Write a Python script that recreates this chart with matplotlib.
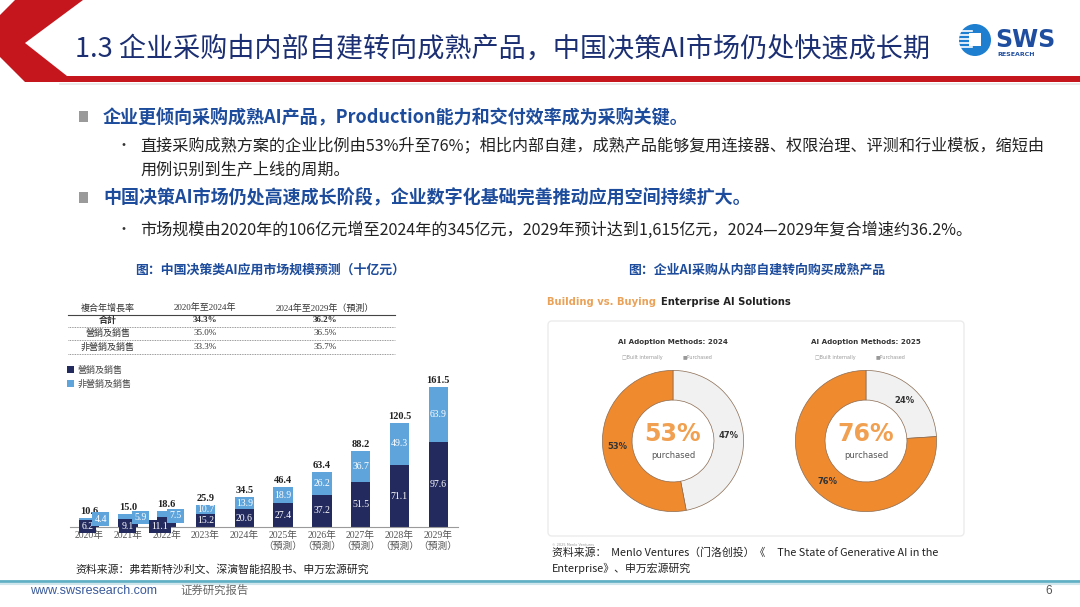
#!/usr/bin/env python
import numpy as np
import matplotlib
matplotlib.use("Agg")
import matplotlib.pyplot as plt
from matplotlib.patches import Polygon, Rectangle, FancyBboxPatch, Circle

plt.rcParams["font.family"] = ["Noto Sans CJK SC", "DejaVu Sans"]

# ---- data ----
years = ["2020年", "2021年", "2022年", "2023年", "2024年",
         "2025年", "2026年", "2027年", "2028年", "2029年"]
forecast = [False] * 5 + [True] * 5
sales = [6.2, 9.1, 11.1, 15.2, 20.6, 27.4, 37.2, 51.5, 71.1, 97.6]
non_sales = [4.4, 5.9, 7.5, 10.7, 13.9, 18.9, 26.2, 36.7, 49.3, 63.9]
totals = [10.6, 15.0, 18.6, 25.9, 34.5, 46.4, 63.4, 88.2, 120.5, 161.5]

cagr_header = ["複合年增長率", "2020年至2024年", "2024年至2029年（預測）"]
cagr_rows = ["合計", "營銷及銷售", "非營銷及銷售"]
cagr_2020_2024 = ["34.3%", "35.0%", "33.3%"]
cagr_2024_2029 = ["36.2%", "36.5%", "35.7%"]

adoption_years = ["2024", "2025"]
built_internally = [47, 24]
purchased = [53, 76]

# ---- colours ----
navy = "#232a5e"
light_blue = "#5fa5dc"
orange = "#ef8a2f"
pale = "#f1f1f1"
title_blue = "#1b2f72"
head_blue = "#1d4c9c"
serif_cjk = ["Liberation Serif", "Noto Sans CJK TC"]

W, H = 1080, 607
fig = plt.figure(figsize=(W / 100, H / 100), dpi=100)
bg = fig.add_axes([0, 0, 1, 1])
bg.set_xlim(0, W)
bg.set_ylim(H, 0)
bg.axis("off")

# header chevron + red band
red = "#c4161c"
bg.add_patch(Polygon([(0, 15), (15, 0), (83, 0), (25, 43), (67, 76), (1080, 76),
                      (1080, 82), (25, 82), (0, 57)], closed=True,
                     facecolor=red, edgecolor="none"))
bg.plot([60, 1080], [84, 84], color="#e6e6e6", lw=1.2)
bg.text(75, 49, "1.3 企业采购由内部自建转向成熟产品，中国决策AI市场仍处快速成长期",
        fontsize=19.5, color=title_blue, va="center", ha="left")

# logo
bg.add_patch(Circle((975, 40), 16, facecolor="#1e7fd0", edgecolor="none"))
for yy in (31, 35, 39, 43, 47):
    bg.plot([960, 972], [yy, yy], color="white", lw=1.2)
bg.add_patch(Rectangle((969, 33), 12, 13, facecolor="white", edgecolor="none"))
bg.text(995, 40, "SWS", fontsize=17, fontweight="bold", color="#1f4ea0",
        va="center", ha="left", family="DejaVu Sans")
bg.text(997, 54, "RESEARCH", fontsize=4.5, fontweight="bold", color="#1f4ea0",
        va="center", ha="left", family="DejaVu Sans")

# bullets
bg.add_patch(Rectangle((79, 111), 9, 11, facecolor="#9a9a9a", edgecolor="none"))
bg.text(103, 117, "企业更倾向采购成熟AI产品，Production能力和交付效率成为采购关键。",
        fontsize=13, fontweight="bold", color=head_blue, va="center")
bg.text(116, 146, "•", fontsize=10, color="#333333", va="center")
bg.text(140, 146, "直接采购成熟方案的企业比例由53%升至76%；相比内部自建，成熟产品能够复用连接器、权限治理、评测和行业模板，缩短由",
        fontsize=11.6, color="#222222", va="center")
bg.text(140, 170, "用例识别到生产上线的周期。", fontsize=11.6, color="#222222", va="center")
bg.add_patch(Rectangle((79, 192), 9, 11, facecolor="#9a9a9a", edgecolor="none"))
bg.text(103, 198, "中国决策AI市场仍处高速成长阶段，企业数字化基础完善推动应用空间持续扩大。",
        fontsize=13, fontweight="bold", color=head_blue, va="center")
bg.text(116, 230, "•", fontsize=10, color="#333333", va="center")
bg.text(140, 230, "市场规模由2020年的106亿元增至2024年的345亿元，2029年预计达到1,615亿元，2024—2029年复合增速约36.2%。",
        fontsize=11.6, color="#222222", va="center")

# captions
bg.text(270, 270, "图：中国决策类AI应用市场规模预测（十亿元）", fontsize=9.3,
        fontweight="bold", color=head_blue, ha="center", va="center")
bg.text(757, 270, "图：企业AI采购从内部自建转向购买成熟产品", fontsize=9.3,
        fontweight="bold", color=head_blue, ha="center", va="center")

# CAGR table
col_x = [108, 205, 325]
for j in range(3):
    bg.text(col_x[j], 308, cagr_header[j], fontsize=6.5, color="#333333",
            ha="center", va="center", family=serif_cjk)
bg.plot([68, 395], [315, 315], color="#444444", lw=0.8)
row_y = [320, 333, 347]
for k, name in enumerate(cagr_rows):
    wt = "bold" if k == 0 else "normal"
    bg.text(col_x[0], row_y[k], name, fontsize=6.5, color="#333333",
            ha="center", va="center", family=serif_cjk, fontweight=wt)
    bg.text(col_x[1], row_y[k], cagr_2020_2024[k], fontsize=6.5, color="#333333",
            ha="center", va="center", family=serif_cjk, fontweight=wt)
    bg.text(col_x[2], row_y[k], cagr_2024_2029[k], fontsize=6.5, color="#333333",
            ha="center", va="center", family=serif_cjk, fontweight=wt)
    bg.plot([68, 395], [row_y[k] + 6.5] * 2, color="#777777", lw=0.6, ls=(0, (1, 1)))

# bar legend
bg.add_patch(Rectangle((67, 366), 7, 7, facecolor=navy, edgecolor="none"))
bg.text(78, 370, "營銷及銷售", fontsize=6.5, color="#444444", va="center", family=serif_cjk)
bg.add_patch(Rectangle((67, 380), 7, 7, facecolor=light_blue, edgecolor="none"))
bg.text(78, 384, "非營銷及銷售", fontsize=6.5, color="#444444", va="center", family=serif_cjk)

# ---- stacked bar chart ----
step = 38.8
x0 = 89 - 0.5 * step
base_px, px_per_unit = 527, 0.867
ymax = 175
ax = fig.add_axes([x0 / W, (H - base_px) / H, 10 * step / W, ymax * px_per_unit / H])
ax.patch.set_visible(False)
idx = np.arange(len(years))
ax.bar(idx, sales, width=0.5, color=navy)
ax.bar(idx, non_sales, width=0.5, bottom=sales, color=light_blue)
ax.set_xlim(-0.5, 9.5)
ax.set_ylim(0, ymax)
for s in ("top", "right", "left"):
    ax.spines[s].set_visible(False)
ax.spines["bottom"].set_color("#9a9a9a")
ax.set_yticks([])
ax.set_xticks(idx)
ax.set_xticklabels([y + ("\n（預測）" if f else "") for y, f in zip(years, forecast)],
                   fontsize=7, color="#555555", family=serif_cjk, va="top")
ax.tick_params(axis="x", length=0, pad=3)
small_offsets = [(-0.03, 0.3), (0.0, 0.33), (-0.17, 0.22)]
for i in idx:
    ax.text(i, totals[i] + 2, f"{totals[i]:.1f}", ha="center", va="bottom",
            fontsize=7.5, fontweight="bold", color="#222222", family="Liberation Serif")
    if i < 3:
        dx_d, dx_l = small_offsets[i]
        ax.text(i + dx_d, 0.5, f"{sales[i]:.1f}", ha="center", va="center",
                fontsize=7, color="white", family="Liberation Serif",
                bbox=dict(boxstyle="square,pad=0.25", facecolor=navy, edgecolor="none"))
        ax.text(i + dx_l, 9 + 2 * i, f"{non_sales[i]:.1f}", ha="center", va="center",
                fontsize=7, color="white", family="Liberation Serif",
                bbox=dict(boxstyle="square,pad=0.25", facecolor=light_blue, edgecolor="none"))
    else:
        ax.text(i, sales[i] / 2, f"{sales[i]:.1f}", ha="center", va="center",
                fontsize=7, color="white", family="Liberation Serif")
        ax.text(i, sales[i] + non_sales[i] / 2, f"{non_sales[i]:.1f}", ha="center",
                va="center", fontsize=7, color="white", family="Liberation Serif")

bg.text(75, 570, "资料来源：弗若斯特沙利文、深演智能招股书、申万宏源研究",
        fontsize=7.8, color="#222222", va="center")

# ---- right panel: donuts ----
bg.text(547, 302, "Building vs. Buying", fontsize=7.2, fontweight="bold",
        color="#eaa259", va="center", family="DejaVu Sans")
bg.text(661, 302, "Enterprise AI Solutions", fontsize=7.2, fontweight="bold",
        color="#222222", va="center", family="DejaVu Sans")
bg.add_patch(FancyBboxPatch((548, 321), 416, 215, boxstyle="round,pad=0,rounding_size=4",
                            facecolor="white", edgecolor="#ececec", lw=1))

centers = [673, 866]
for k, yr in enumerate(adoption_years):
    cx = centers[k]
    bg.text(cx, 342, f"AI Adoption Methods: {yr}", fontsize=5.1, fontweight="bold",
            color="#333333", ha="center", va="center", family="DejaVu Sans")
    bg.text(cx - 10, 357, "□Built internally", fontsize=3.5, color="#999999",
            ha="right", va="center", family="DejaVu Sans")
    bg.text(cx + 10, 357, "■Purchased", fontsize=3.5, color="#999999",
            ha="left", va="center", family="DejaVu Sans")
    r = 72
    dax = fig.add_axes([(cx - r) / W, (H - 441 - r) / H, 2 * r / W, 2 * r / H])
    dax.patch.set_visible(False)
    dax.pie([built_internally[k], purchased[k]], colors=[pale, orange], startangle=90,
            counterclock=False, radius=1,
            wedgeprops=dict(width=0.42, edgecolor="#8a6a50", linewidth=0.5))
    dax.set_xlim(-1.02, 1.02)
    dax.set_ylim(-1.02, 1.02)
    # ring labels at mid-angle of each slice
    fracs = [built_internally[k], purchased[k]]
    start = 90.0
    for v in fracs:
        mid = np.deg2rad(start - v / 100 * 360 / 2)
        dax.text(0.79 * np.cos(mid), 0.79 * np.sin(mid), f"{v}%", ha="center",
                 va="center", fontsize=6, fontweight="bold", color="#333333",
                 family="DejaVu Sans")
        start -= v / 100 * 360
    dax.text(0, 0.1, f"{purchased[k]}%", ha="center", va="center", fontsize=17,
             fontweight="bold", color="#f0a050", family="DejaVu Sans")
    dax.text(0, -0.2, "purchased", ha="center", va="center", fontsize=6,
             color="#555555", family="DejaVu Sans")

bg.text(552, 545, "© 2025 Menlo Ventures", fontsize=2.5, color="#999999", va="center",
        family="DejaVu Sans")
bg.text(552, 553, "资料来源：  Menlo Ventures（门洛创投）《     The State of Generative AI in the",
        fontsize=7.8, color="#222222", va="center")
bg.text(552, 568, "Enterprise》、申万宏源研究", fontsize=7.8, color="#222222", va="center")

# footer
bg.plot([0, 1080], [581, 581], color="#5fb0c4", lw=2)
bg.plot([0, 1080], [583.5, 583.5], color="#cfe6ec", lw=1.5)
bg.text(30, 591, "www.swsresearch.com", fontsize=9, color="#3a5a9a", va="center",
        family="Liberation Sans")
bg.text(180, 590, "证券研究报告", fontsize=8.2, color="#666666", va="center")
bg.text(1045, 591, "6", fontsize=8.5, color="#555555", va="center", family="Liberation Sans")

fig.savefig("out.png", dpi=100)
